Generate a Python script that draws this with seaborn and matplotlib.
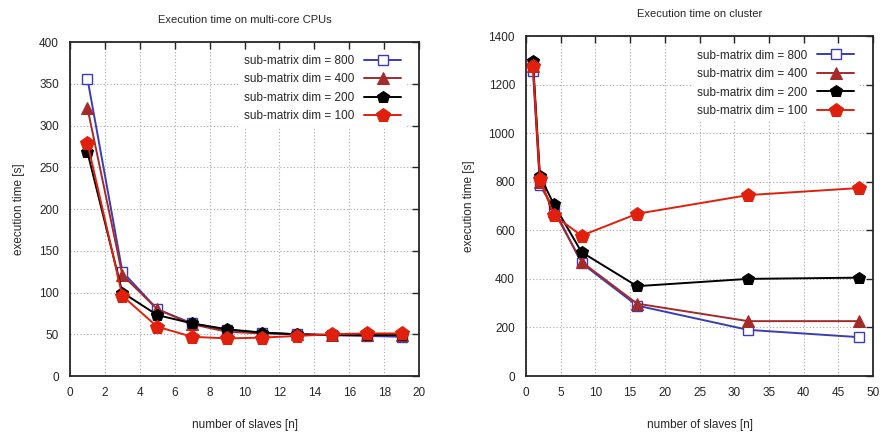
"""Execution time of block matrix multiplication: multi-core vs cluster."""

import matplotlib

matplotlib.use("Agg")
import matplotlib.pyplot as plt
import pandas as pd
import seaborn as sns

# multi-core CPUs
cpu_slaves = [1, 3, 5, 7, 9, 11, 13, 15, 17, 19]
cpu_800 = [356, 125, 80, 63, 55, 52, 50, 49, 48, 47]
cpu_400 = [321, 121, 80, 62, 53, 51, 50, 49, 49, 49]
cpu_200 = [268, 100, 73, 63, 56, 52, 50, 49, 49, 49]
cpu_100 = [279, 96, 59, 47, 45, 46, 48, 50, 51, 51]

# cluster
cl_slaves = [1, 2, 4, 8, 16, 32, 48]
cl_800 = [1255, 785, 690, 465, 290, 190, 160]
cl_400 = [1275, 800, 680, 470, 298, 226, 226]
cl_200 = [1297, 825, 707, 510, 370, 400, 405]
cl_100 = [1277, 812, 662, 578, 668, 745, 774]

dims = [800, 400, 200, 100]
colors = {800: "#3c3cb4", 400: "#a52a2a", 200: "#000000", 100: "#e0200c"}
styles = {
    800: dict(marker="s", markersize=7, markerfacecolor="white", markeredgewidth=1.0),
    400: dict(marker="^", markersize=8),
    200: dict(marker="p", markersize=9),
    100: dict(marker="p", markersize=10),
}


def build(slaves, series):
    rows = []
    for dim, vals in zip(dims, series):
        for n, t in zip(slaves, vals):
            rows.append({"slaves": n, "time": t, "dim": dim})
    return pd.DataFrame(rows)


def draw(ax, df, xmax, xstep, ymax, ystep, title, leg_anchor):
    for dim in dims:
        sub = df[df["dim"] == dim]
        sns.lineplot(
            data=sub, x="slaves", y="time", ax=ax, color=colors[dim],
            linewidth=1.4, markeredgecolor=colors[dim],
            label=f"sub-matrix dim = {dim}", **styles[dim],
        )
    ax.set_xlim(0, xmax)
    ax.set_ylim(0, ymax)
    ax.set_xticks(range(0, xmax + 1, xstep))
    ax.set_yticks(range(0, ymax + 1, ystep))
    ax.grid(True, linestyle=(0, (1, 2)), color="#a8a8a8", linewidth=0.8)
    ax.tick_params(direction="in", top=True, right=True, length=5, width=1,
                   labelsize=8.5, pad=8)
    for s in ax.spines.values():
        s.set_linewidth(1.3)
    ax.set_title(title, fontsize=8, pad=14)
    ax.set_xlabel("number of slaves [n]", fontsize=8.5, labelpad=14)
    ax.set_ylabel("execution time [s]", fontsize=8.5, labelpad=10)
    leg = ax.legend(loc="upper right", bbox_to_anchor=leg_anchor,
                    markerfirst=False, frameon=True, fontsize=8.5,
                    handlelength=3.2, labelspacing=0.55, borderaxespad=0)
    leg.get_frame().set_edgecolor("none")
    leg.get_frame().set_facecolor("white")
    leg.get_frame().set_alpha(1.0)


sns.set_style("white")
plt.rcParams["font.family"] = ["Liberation Sans", "DejaVu Sans"]

fig = plt.figure(figsize=(8.85, 4.33), dpi=100)
ax1 = fig.add_axes([0.0791, 0.1316, 0.3944, 0.7714])
ax2 = fig.add_axes([0.5944, 0.1316, 0.3921, 0.7852])

draw(ax1, build(cpu_slaves, [cpu_800, cpu_400, cpu_200, cpu_100]),
     20, 2, 400, 50, "Execution time on multi-core CPUs", (0.963, 0.976))
draw(ax2, build(cl_slaves, [cl_800, cl_400, cl_200, cl_100]),
     50, 5, 1400, 200, "Execution time on cluster", (0.96, 0.974))

fig.savefig("out.png", dpi=100)
plt.close(fig)
